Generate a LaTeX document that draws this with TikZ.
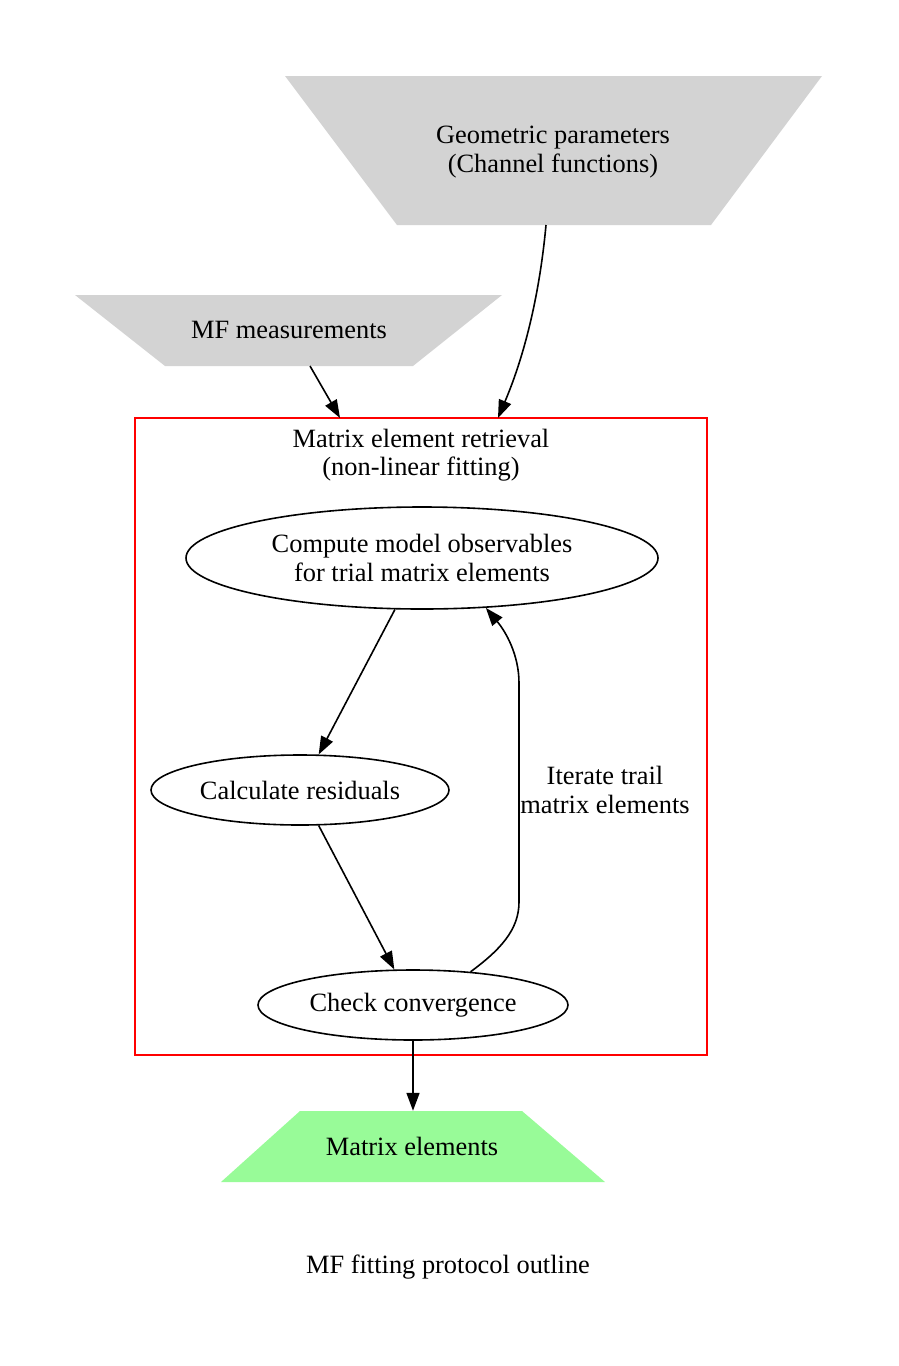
\documentclass[tikz,border=0pt]{standalone}
\usepackage{fontspec}
\setmainfont{Liberation Serif}
\usetikzlibrary{arrows.meta,shapes.geometric}
\definecolor{gvgray}{HTML}{D3D3D3}
\definecolor{gvgreen}{HTML}{98FB98}
\begin{document}
\begin{tikzpicture}[x=1pt,y=-1pt,
  txt/.style={font=\fontsize{26.4}{28.5}\selectfont, align=center, inner sep=0pt},
  ell/.style={draw, ellipse, line width=1.6pt, inner sep=0pt, font=\fontsize{26.4}{28.5}\selectfont, align=center},
  box/.style={rectangle, inner sep=0pt},
  edge/.style={line width=1.6pt, -{Triangle[length=18pt,width=13pt]}}]
\useasboundingbox (0,0) rectangle (898,1366);
% Geometric parameters
\fill[gvgray] (285,76) -- (822,76) -- (711,225) -- (397,225) -- cycle;
\node[box, minimum width=314pt, minimum height=149pt] (geo) at (554,150.5) {};
\node[txt] (geotxt) at (553,152) {Geometric parameters\\(Channel functions)};
% MF measurements
\fill[gvgray] (75,295) -- (502,295) -- (413,366) -- (165,366) -- cycle;
\node[box, minimum width=248pt, minimum height=71pt] (mf) at (289,330.5) {};
\node[txt] (mftxt) at (289,330) {MF measurements};
% Cluster
\node[draw=red, line width=1.6pt, box, minimum width=572pt, minimum height=637pt] (cl) at (421,736.5) {};
\node[txt] (cltxt) at (421,455) {Matrix element retrieval\\(non-linear fitting)};
% Ellipses
\node[ell, minimum width=472pt, minimum height=102pt] (cmp) at (422,558) {Compute model observables\\for trial matrix elements};
\node[ell, minimum width=298pt, minimum height=70pt] (calc) at (300,790) {Calculate residuals};
\node[ell, minimum width=310pt, minimum height=70pt] (chk) at (413,1005) {Check convergence};
% Matrix elements
\fill[gvgreen] (300,1111) -- (522,1111) -- (605,1182) -- (221,1182) -- cycle;
\node[box, minimum width=222pt, minimum height=71pt] (mat) at (413,1146.5) {};
\node[txt] (mattxt) at (412,1146) {Matrix elements};
% Caption
\node[txt] (cap) at (448,1267) {MF fitting protocol outline};
% Edge endpoints
\coordinate (geoout) at (546,225);
\coordinate (geoin) at (498,418);
\coordinate (mfout) at (310,366);
\coordinate (mfin) at (340,418);
% Edges
\draw[edge] (geoout) .. controls (540,290) and (526,352) .. (geoin);
\draw[edge] (mfout) -- (mfin);
\draw[edge] (cmp) -- (calc);
\draw[edge] (calc) -- (chk);
\draw[edge] (chk.30) .. controls (500,950) and (519,930) .. (519,902) -- (519,683) .. controls (519,655) and (506,632) .. (cmp.-38);
\draw[edge] (chk) -- (mat);
\node[txt] (looplbl) at (605,790) {Iterate trail\\matrix elements};
\end{tikzpicture}
\end{document}
